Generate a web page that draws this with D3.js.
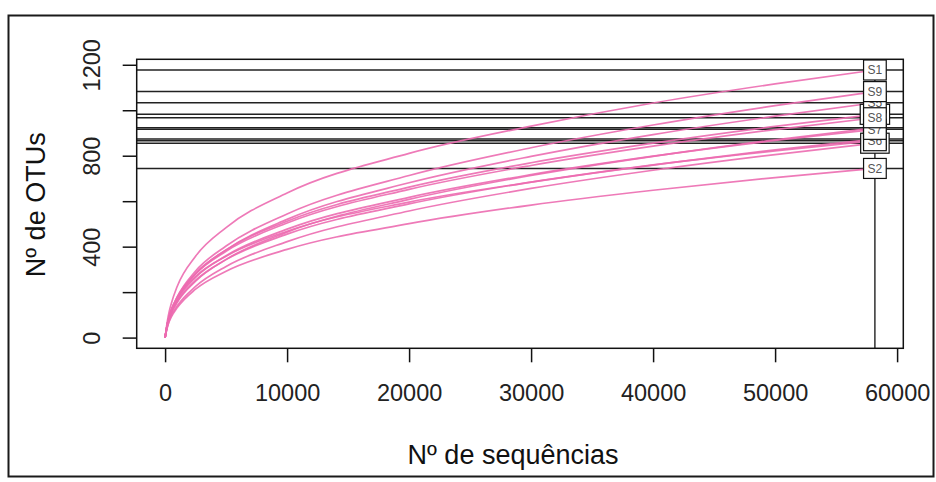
<!DOCTYPE html>
<html>
<head>
<meta charset="utf-8">
<script src="https://cdn.jsdelivr.net/npm/d3@7"></script>
<style>
  html, body { margin: 0; padding: 0; background: #fff; }
  svg { display: block; font-family: Arial, "Liberation Sans", Helvetica, sans-serif; }
</style>
</head>
<body>
<svg id="chart" width="936" height="482"></svg>
<script>
// Rarefaction depths (number of sequences subsampled)
const depths = [0, 100, 250, 500, 1000, 2500, 5000, 10000, 20000, 30000, 40000, 50000, 58181];
// Depth used for the common rarefied comparison (vertical reference line)
const sampleDepth = 58181;

// Sample names, in drawing order for the labels (last drawn sits on top)
const sampleNames = ["S11", "S3", "S4", "S10", "S5", "S6", "S7", "S8", "S9", "S1", "S2"];

// Observed OTUs for each sample at each depth
const otuS11 = [0, 28, 60, 95, 140, 225, 313, 422, 557, 656, 736, 805, 855];
const otuS3  = [0, 32, 70, 110, 160, 252, 343, 455, 588, 684, 760, 826, 873];
const otuS4  = [0, 30, 66, 104, 155, 248, 344, 464, 608, 713, 797, 870, 923];
const otuS10 = [0, 35, 76, 120, 178, 283, 386, 512, 662, 769, 855, 929, 982];
const otuS5  = [0, 34, 74, 116, 172, 280, 386, 520, 681, 797, 893, 974, 1033];
const otuS6  = [0, 35, 76, 118, 172, 268, 358, 468, 596, 684, 759, 821, 866];
const otuS7  = [0, 33, 72, 113, 166, 265, 360, 477, 617, 717, 798, 867, 916];
const otuS8  = [0, 35, 76, 119, 176, 280, 380, 504, 652, 757, 842, 915, 967];
const otuS9  = [0, 35, 77, 121, 180, 293, 403, 544, 713, 835, 935, 1020, 1082];
const otuS1  = [0, 42, 92, 148, 226, 358, 484, 636, 810, 930, 1032, 1116, 1177];
const otuS2  = [0, 27, 58, 90, 132, 213, 292, 388, 501, 583, 648, 704, 744];

const otuSeries = [otuS11, otuS3, otuS4, otuS10, otuS5, otuS6, otuS7, otuS8, otuS9, otuS1, otuS2];

// Axis ticks and labels
const xTicks = [0, 10000, 20000, 30000, 40000, 50000, 60000];
const yTicks = [0, 200, 400, 600, 800, 1000, 1200];
const yTickLabels = [0, 400, 800, 1200];

const xTitle = "Nº de sequências";
const yTitle = "Nº de OTUs";

const svg = d3.select("#chart");

// Plot region (box)
const box = { left: 136.7, right: 903.3, top: 59.3, bottom: 348.3 };

// Data extents with a 4% pad at each end, like base graphics
const xMax = d3.max(depths);
const yMax = d3.max(otuSeries, s => d3.max(s));
const x = d3.scaleLinear()
  .domain([-0.04 * xMax, 1.04 * xMax])
  .range([box.left, box.right]);
const y = d3.scaleLinear()
  .domain([-0.04 * yMax, 1.04 * yMax])
  .range([box.bottom, box.top]);

// Outer frame
svg.append("rect")
  .attr("x", 8.5).attr("y", 15.5)
  .attr("width", 925).attr("height", 461)
  .attr("fill", "none")
  .attr("stroke", "#1a1a1a")
  .attr("stroke-width", 2);

svg.append("defs").append("clipPath").attr("id", "plotclip")
  .append("rect")
  .attr("x", box.left).attr("y", box.top)
  .attr("width", box.right - box.left).attr("height", box.bottom - box.top);

const plot = svg.append("g").attr("clip-path", "url(#plotclip)");

// Vertical line at the rarefied depth
plot.append("line")
  .attr("x1", x(sampleDepth)).attr("x2", x(sampleDepth))
  .attr("y1", box.top).attr("y2", box.bottom)
  .attr("stroke", "#111").attr("stroke-width", 1.3);

// Horizontal lines at each sample's richness at that depth
const finals = otuSeries.map(s => s[s.length - 1]);
plot.selectAll("line.rare")
  .data(finals)
  .join("line")
  .attr("class", "rare")
  .attr("x1", box.left).attr("x2", box.right)
  .attr("y1", d => y(d)).attr("y2", d => y(d))
  .attr("stroke", "#222").attr("stroke-width", 1.5);

// Rarefaction curves
const line = d3.line()
  .x((d, i) => x(depths[i]))
  .y(d => y(d))
  .curve(d3.curveMonotoneX);

plot.selectAll("path.curve")
  .data(otuSeries)
  .join("path")
  .attr("class", "curve")
  .attr("d", line)
  .attr("fill", "none")
  .attr("stroke", "#ec6cb0")
  .attr("stroke-width", 1.7)
  .attr("stroke-opacity", 0.9);

// Plot box
svg.append("rect")
  .attr("x", box.left).attr("y", box.top)
  .attr("width", box.right - box.left).attr("height", box.bottom - box.top)
  .attr("fill", "none")
  .attr("stroke", "#111")
  .attr("stroke-width", 1.5);

// Bottom axis
const xAxis = d3.axisBottom(x)
  .tickValues(xTicks)
  .tickSize(14)
  .tickPadding(22)
  .tickFormat(d3.format("d"));
const gx = svg.append("g")
  .attr("transform", `translate(0,${box.bottom})`)
  .call(xAxis);
gx.select(".domain").remove();
gx.selectAll(".tick line").attr("stroke", "#111").attr("stroke-width", 1.5);
gx.selectAll(".tick text")
  .attr("fill", "#222")
  .attr("font-size", 23.5)
  .attr("font-family", "Arial, 'Liberation Sans', sans-serif");

// Left axis (rotated tick labels)
const yAxis = d3.axisLeft(y)
  .tickValues(yTicks)
  .tickSize(14)
  .tickFormat(d => yTickLabels.includes(d) ? d : "");
const gy = svg.append("g")
  .attr("transform", `translate(${box.left},0)`)
  .call(yAxis);
gy.select(".domain").remove();
gy.selectAll(".tick line").attr("stroke", "#111").attr("stroke-width", 1.5);
gy.selectAll(".tick text")
  .attr("fill", "#222")
  .attr("font-size", 23.5)
  .attr("font-family", "Arial, 'Liberation Sans', sans-serif")
  .attr("x", null).attr("dy", null)
  .attr("text-anchor", "middle")
  .attr("transform", "translate(-37,0) rotate(-90)");

// Axis titles
svg.append("text")
  .attr("x", 513).attr("y", 464)
  .attr("text-anchor", "middle")
  .attr("font-size", 27)
  .attr("fill", "#111")
  .text(xTitle);

svg.append("text")
  .attr("transform", `translate(45,${(box.top + box.bottom) / 2 + 1}) rotate(-90)`)
  .attr("text-anchor", "middle")
  .attr("font-size", 27)
  .attr("fill", "#111")
  .text(yTitle);

// Sample labels in boxes at the curve ends
const labels = svg.append("g");
sampleNames.forEach((name, i) => {
  const cx = x(sampleDepth);
  const cy = y(finals[i]);
  const g = labels.append("g").attr("transform", `translate(${cx},${cy})`);
  const t = g.append("text")
    .attr("text-anchor", "middle")
    .attr("dy", "0.36em")
    .attr("font-size", 12)
    .attr("fill", "#555")
    .text(name);
  const w = t.node().getComputedTextLength() + 8;
  g.insert("rect", "text")
    .attr("x", -w / 2).attr("y", -10)
    .attr("width", w).attr("height", 20)
    .attr("fill", "#fff")
    .attr("stroke", "#111")
    .attr("stroke-width", 1.2);
});
</script>
</body>
</html>
